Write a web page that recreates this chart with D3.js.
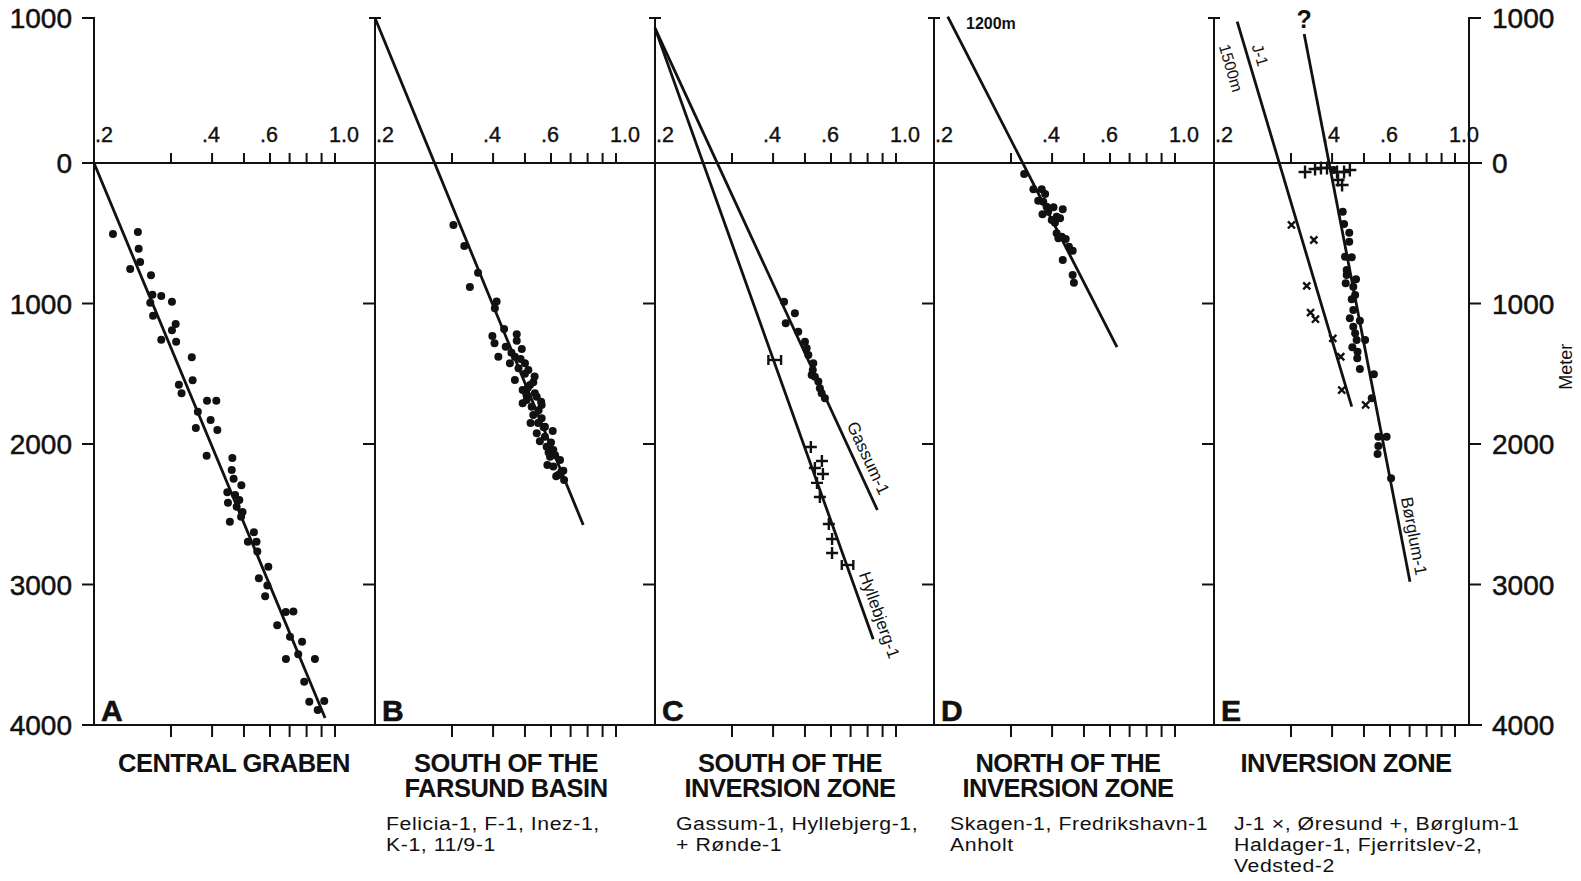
<!DOCTYPE html>
<html>
<head>
<meta charset="utf-8">
<script src="https://cdn.jsdelivr.net/npm/d3@7"></script>
<style>
  body { margin: 0; background: #fff; }
  svg { display: block; font-family: "Liberation Sans", Arial, Helvetica, sans-serif; }
</style>
</head>
<body>
<script>
// ---- data (vitrinite reflectance Ro %, depth in metres) ----
const panelLetters = ['A', 'B', 'C', 'D', 'E'];
const panelTitles = [
  ['CENTRAL GRABEN'],
  ['SOUTH OF THE', 'FARSUND BASIN'],
  ['SOUTH OF THE', 'INVERSION ZONE'],
  ['NORTH OF THE', 'INVERSION ZONE'],
  ['INVERSION ZONE']
];
const panelWells = [
  [],
  ['Felicia-1, F-1, Inez-1,', 'K-1, 11/9-1'],
  ['Gassum-1, Hyllebjerg-1,', '+ Rønde-1'],
  ['Skagen-1, Fredrikshavn-1', 'Anholt'],
  ['J-1 ×, Øresund +, Børglum-1', 'Haldager-1, Fjerritslev-2,', 'Vedsted-2']
];

const depthTicks = [-1000, 0, 1000, 2000, 3000, 4000];
const depthLabels = ['1000', '0', '1000', '2000', '3000', '4000'];
const roTicks = [0.3, 0.4, 0.5, 0.6, 0.7, 0.8, 0.9, 1.0];
const roLabelValues = [0.2, 0.4, 0.6, 1.0];
const roLabels = ['.2', '.4', '.6', '1.0'];

// A - Central Graben
const pointsA = [[0.221,505],[0.252,491],[0.253,610],[0.242,754],[0.255,705],[0.270,799],[0.272,937],[0.285,947],
  [0.302,987],[0.269,994],[0.273,1087],[0.310,1146],[0.302,1191],[0.285,1258],[0.311,1272],[0.347,1383],
  [0.349,1547],[0.317,1578],[0.323,1639],[0.386,1692],[0.412,1692],[0.362,1770],[0.396,1829],[0.357,1886],
  [0.415,1900],[0.385,2083],[0.461,2100],[0.459,2185],[0.465,2247],[0.491,2294],[0.445,2344],[0.470,2363],
  [0.447,2418],[0.484,2398],[0.475,2446],[0.495,2484],[0.453,2553],[0.490,2517],[0.536,2628],[0.514,2695],
  [0.546,2695],[0.549,2766],[0.593,2873],[0.555,2956],[0.589,3008],[0.580,3084],[0.679,3196],[0.721,3193],
  [0.635,3290],[0.702,3371],[0.772,3407],[0.749,3497],[0.680,3530],[0.854,3530],[0.785,3692],[0.817,3834],
  [0.919,3829],[0.873,3893]];
const lineA = [[0.2,0],[0.925,3950]];

// B - South of the Farsund Basin
const pointsB = [[0.303,441],[0.327,591],[0.360,781],[0.340,883],[0.410,986],[0.405,1034],[0.432,1181],[0.398,1231],
  [0.404,1283],[0.472,1219],[0.472,1265],[0.437,1307],[0.415,1379],[0.489,1324],[0.466,1379],[0.450,1426],
  [0.500,1426],[0.512,1473],[0.466,1544],[0.518,1580],[0.492,1616],[0.543,1663],[0.492,1710],[0.524,1734],
  [0.562,1722],[0.530,1794],[0.562,1817],[0.543,1924],[0.608,1907],[0.575,1948],[0.582,2019],[0.611,2043],
  [0.596,2090],[0.644,2114],[0.611,2161],[0.661,2190],[0.635,2220],[0.665,2256],[0.575,1877],[0.506,1687],
  [0.536,1639],[0.500,1500],[0.478,1460],[0.530,1560],[0.510,1600],[0.550,1760],[0.520,1850],[0.570,1880],
  [0.555,1980],[0.600,1990],[0.585,2150],[0.620,2080],[0.455,1350],[0.485,1395],[0.505,1650],[0.560,1700],
  [0.535,1520],[0.548,1850],[0.590,2060],[0.625,2230],[0.650,2200]];
const lineB = [[0.2,-1000],[0.773,2576]];

// C - South of the Inversion Zone
const gassumDots = [[0.432,987],[0.466,1070],[0.437,1141],[0.477,1201],[0.500,1272],[0.506,1319],[0.512,1366],
  [0.530,1426],[0.528,1473],[0.536,1521],[0.549,1556],[0.555,1603],[0.562,1639],[0.575,1675],[0.524,1509]];
const hyllebjergCrosses = [[0.521,2021],[0.563,2121],[0.536,2171],[0.567,2213],[0.544,2277],[0.555,2377],
  [0.591,2569],[0.605,2676],[0.605,2776]];
const hyllebjergRanges = [[0.387,0.423,1402],[0.653,0.715,2861]];
const lineGassum = [[0.2,-930],[0.864,2470]];
const lineHyllebjerg = [[0.2,-930],[0.836,3390]];

// D - North of the Inversion Zone
const pointsD = [[0.329,78],[0.351,187],[0.372,187],[0.381,221],[0.363,268],[0.376,275],[0.385,311],[0.374,365],
  [0.389,347],[0.404,315],[0.431,330],[0.413,382],[0.423,394],[0.408,425],[0.413,500],[0.428,525],[0.418,536],
  [0.440,541],[0.450,596],[0.462,624],[0.431,690],[0.462,797],[0.466,852],[0.399,406]];
const lineD = [[0.215,-1010],[0.634,1310]];

// E - Inversion Zone
const j1Crosses = [[0.301,441],[0.352,548],[0.335,875],[0.344,1065],[0.356,1112],[0.402,1248],[0.425,1379],
  [0.428,1616],[0.506,1722]];
const oresundPlus = [[0.331,64],[0.355,43],[0.370,36],[0.386,36],[0.414,64],[0.435,64],[0.453,50],[0.417,121],[0.429,157]];
const borglumDots = [[0.404,50],[0.431,347],[0.435,434],[0.451,496],[0.451,560],[0.438,667],[0.459,671],[0.443,762],
  [0.443,797],[0.473,828],[0.440,856],[0.464,880],[0.470,939],[0.459,970],[0.464,1046],[0.453,1105],[0.486,1122],
  [0.464,1165],[0.470,1212],[0.504,1260],[0.475,1260],[0.461,1312],[0.478,1343],[0.477,1390],[0.486,1466],
  [0.536,1504],[0.528,1675],[0.553,1948],[0.586,1948],[0.553,2014],[0.550,2071],[0.605,2244]];
const lineJ1 = [[0.226,-975],[0.459,1734]];
const lineBorglum = [[0.329,-890],[0.702,2980]];

// ---- layout ----
const WIDTH = 1581, HEIGHT = 881;
const panelLefts = [94, 375, 655, 934, 1214];
const rightAxis = 1469;
const roKnots = [0.2, 0.3, 0.6, 1.0];      // the printed Ro axis is not a clean log scale
const roOffsets = [0, 77, 176, 241];

const svg = d3.select('body').append('svg')
  .attr('width', WIDTH)
  .attr('height', HEIGHT);

const y = d3.scaleLinear().domain([-1000, 0, 4000]).range([18, 163, 725]);
const xScales = panelLefts.map(l => d3.scaleLog().domain(roKnots).range(roOffsets.map(o => l + o)));

const ink = '#111';
const axes = svg.append('g').attr('stroke', ink).attr('stroke-width', 2).attr('fill', 'none');

// horizontal reference lines at 0 and 4000 m
[0, 4000].forEach(d => {
  axes.append('line').attr('x1', 82).attr('x2', rightAxis + 13).attr('y1', y(d)).attr('y2', y(d));
});

// vertical axes of each panel
panelLefts.concat([rightAxis]).forEach((px, i) => {
  axes.append('line').attr('x1', px).attr('x2', px).attr('y1', y(-1000) - 1).attr('y2', y(4000));
  const isRight = i === panelLefts.length;
  [-1000, 1000, 2000, 3000].forEach(d => {
    let x1 = px - 12, x2 = px;
    if (isRight) { x1 = px; x2 = px + 12; }
    else if (d === -1000 && i > 0) { x1 = px - 6; x2 = px + 6; }
    axes.append('line').attr('x1', x1).attr('x2', x2).attr('y1', y(d)).attr('y2', y(d));
  });
});

// Ro ticks on the 0 line (up) and on the 4000 line (down)
xScales.forEach(x => {
  roTicks.forEach(r => {
    axes.append('line').attr('x1', x(r)).attr('x2', x(r)).attr('y1', y(0) - 10).attr('y2', y(0));
    axes.append('line').attr('x1', x(r)).attr('x2', x(r)).attr('y1', y(4000)).attr('y2', y(4000) + 12);
  });
});

// Ro tick labels
const labelG = svg.append('g').attr('fill', ink).attr('font-size', 21.5)
  .attr('stroke', ink).attr('stroke-width', 0.4);
xScales.forEach(x => {
  roLabelValues.forEach((r, k) => {
    const t = labelG.append('text').attr('y', y(0) - 21).text(roLabels[k]);
    if (k === 0) t.attr('x', x(r) + 1).attr('text-anchor', 'start');
    else if (k === roLabelValues.length - 1) t.attr('x', x(r) + 9).attr('text-anchor', 'middle');
    else t.attr('x', x(r) - 1).attr('text-anchor', 'middle');
  });
});

// depth labels both sides
const depthG = svg.append('g').attr('fill', ink).attr('font-size', 28)
  .attr('stroke', ink).attr('stroke-width', 0.5);
depthTicks.forEach((d, k) => {
  depthG.append('text').attr('x', 72).attr('y', y(d)).attr('dy', '0.36em')
    .attr('text-anchor', 'end').text(depthLabels[k]);
  depthG.append('text').attr('x', 1492).attr('y', y(d)).attr('dy', '0.36em')
    .attr('text-anchor', 'start').text(depthLabels[k]);
});
svg.append('text')
  .attr('transform', `translate(1566, ${y(1450)}) rotate(-90)`)
  .attr('text-anchor', 'middle').attr('dy', '0.35em')
  .attr('font-size', 18).attr('fill', ink).text('Meter');

// panel letters
panelLefts.forEach((l, i) => {
  svg.append('text').attr('x', l + 7).attr('y', y(4000) - 4)
    .attr('font-size', 30).attr('font-weight', 'bold').attr('fill', ink)
    .attr('stroke', ink).attr('stroke-width', 0.6)
    .text(panelLetters[i]);
});

// titles and well lists
const titleCenters = [234, 506, 790, 1068, 1346];
const wellStarts = [0, 386, 676, 950, 1234];
panelTitles.forEach((lines, i) => {
  lines.forEach((s, k) => {
    svg.append('text').attr('x', titleCenters[i]).attr('y', 772 + k * 25)
      .attr('text-anchor', 'middle').attr('font-size', 25.5).attr('font-weight', 'bold')
      .attr('letter-spacing', -0.5).attr('fill', ink).text(s);
  });
  panelWells[i].forEach((s, k) => {
    // the printed face is wider than Liberation Sans, so stretch it a little
    svg.append('text')
      .attr('transform', `translate(${wellStarts[i]}, ${830 + k * 21}) scale(1.12, 1)`)
      .attr('font-size', 19).attr('letter-spacing', 0.5).attr('fill', ink).text(s);
  });
});

// ---- marks ----
const marks = svg.append('g');

function drawLine(x, data) {
  marks.append('path')
    .datum(data)
    .attr('fill', 'none').attr('stroke', ink).attr('stroke-width', 2.8)
    .attr('d', d3.line().x(d => x(d[0])).y(d => y(d[1])));
}

function drawDots(x, data, r = 4) {
  marks.append('g').selectAll('circle').data(data).join('circle')
    .attr('cx', d => x(d[0])).attr('cy', d => y(d[1])).attr('r', r).attr('fill', ink);
}

function drawPlus(x, data, s, rotate) {
  marks.append('g').selectAll('path').data(data).join('path')
    .attr('transform', d => `translate(${x(d[0])},${y(d[1])}) rotate(${rotate})`)
    .attr('d', `M${-s},0H${s}M0,${-s}V${s}`)
    .attr('stroke', ink).attr('stroke-width', 2.4).attr('fill', 'none');
}

function drawRanges(x, data) {
  const g = marks.append('g').attr('stroke', ink).attr('stroke-width', 2.4);
  data.forEach(d => {
    const x0 = x(d[0]), x1 = x(d[1]), yy = y(d[2]);
    g.append('line').attr('x1', x0).attr('x2', x1).attr('y1', yy).attr('y2', yy);
    g.append('line').attr('x1', x0).attr('x2', x0).attr('y1', yy - 5).attr('y2', yy + 5);
    g.append('line').attr('x1', x1).attr('x2', x1).attr('y1', yy - 5).attr('y2', yy + 5);
  });
}

// text placed beside a fitted line, rotated to follow it
function lineLabel(x, line, depth, dx, text, size) {
  const p0 = [x(line[0][0]), y(line[0][1])], p1 = [x(line[1][0]), y(line[1][1])];
  const yy = y(depth);
  const xx = p0[0] + (p1[0] - p0[0]) * (yy - p0[1]) / (p1[1] - p0[1]);
  const ang = Math.atan2(p1[1] - p0[1], p1[0] - p0[0]) * 180 / Math.PI;
  svg.append('text')
    .attr('transform', `translate(${xx + dx},${yy}) rotate(${ang})`)
    .attr('text-anchor', 'middle').attr('dy', '0.35em')
    .attr('font-size', size).attr('fill', ink).text(text);
}

const [xA, xB, xC, xD, xE] = xScales;

drawLine(xA, lineA);
drawDots(xA, pointsA);

drawLine(xB, lineB);
drawDots(xB, pointsB);

drawLine(xC, lineGassum);
drawLine(xC, lineHyllebjerg);
drawDots(xC, gassumDots);
drawPlus(xC, hyllebjergCrosses, 6, 0);
drawRanges(xC, hyllebjergRanges);
lineLabel(xC, lineGassum, 2100, 15, 'Gassum-1', 17);
lineLabel(xC, lineHyllebjerg, 3217, 15, 'Hyllebjerg-1', 17);

drawLine(xD, lineD);
drawDots(xD, pointsD);
svg.append('text').attr('x', 966).attr('y', 29).attr('font-size', 16).attr('font-weight', 'bold')
  .attr('fill', ink).text('1200m');

drawLine(xE, lineJ1);
drawLine(xE, lineBorglum);
drawPlus(xE, j1Crosses, 5, 45);
drawPlus(xE, oresundPlus, 6.5, 0);
drawDots(xE, borglumDots);
lineLabel(xE, lineJ1, -745, 13, 'J-1', 16);
lineLabel(xE, lineJ1, -655, -20, '1500m', 16);
lineLabel(xE, lineBorglum, 2655, 13, 'Børglum-1', 17);
svg.append('text').attr('x', xE(lineBorglum[0][0])).attr('y', 28).attr('text-anchor', 'middle')
  .attr('font-size', 25).attr('font-weight', 'bold').attr('fill', ink).text('?');
</script>
</body>
</html>
